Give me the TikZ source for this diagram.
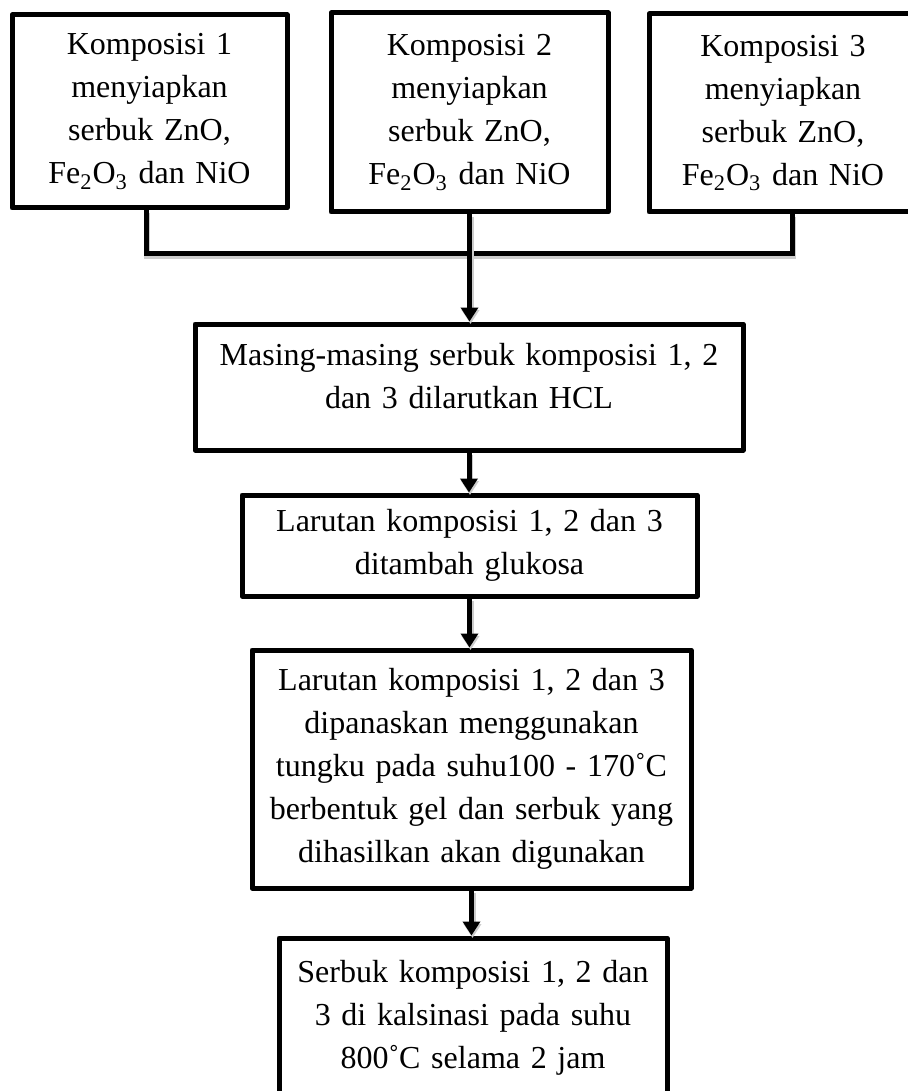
\documentclass[tikz,border=0pt]{standalone}
\usepackage{fontspec}
\setmainfont{Liberation Serif}
\usetikzlibrary{arrows.meta}
\tikzset{
    box/.style={draw, line width=2.5pt, line join=round, fill=white, align=center, inner sep=2pt, font=\fontsize{16}{21.5}\selectfont},
    link/.style={line width=2.5pt, preaction={draw=black!20, line width=3pt, transform canvas={xshift=0.5pt, yshift=-1.25pt}}},
    flow/.style={link, -{Triangle[length=7pt, width=8.5pt]}}
}
\newcommand{\siapkan}{menyiapkan\\ serbuk ZnO,\\ Fe\textsubscript{2}O\textsubscript{3} dan NiO}

\begin{document}
\begin{tikzpicture}[x=0.5pt, y=-0.5pt]
        \useasboundingbox (0, 0) rectangle (908, 1091);

        \node[box, minimum width=137.5pt, minimum height=96.5pt, text width=131pt] (k1) at (149.5, 111.5) {Komposisi 1\\ \siapkan};
        \node[box, minimum width=138.5pt, minimum height=99.5pt, text width=132pt] (k2) at (469.5, 112.5) {Komposisi 2\\ \siapkan};
        \node[box, minimum width=134pt, minimum height=99pt, text width=128pt] (k3) at (783, 113) {Komposisi 3\\ \siapkan};

        \node[box, minimum width=274pt, minimum height=63pt, text width=268pt] (larut) at (469, 387) {Masing-masing serbuk komposisi 1, 2\\ dan 3 dilarutkan HCL\rule[-11.5pt]{0pt}{0pt}};
        \node[box, minimum width=227.5pt, minimum height=50.5pt, text width=221pt] (glukosa) at (469.5, 545.5) {Larutan komposisi 1, 2 dan 3\\ ditambah glukosa};
        \node[box, minimum width=219.5pt, minimum height=119pt, text width=213pt] (panas) at (471.5, 769) {Larutan komposisi 1, 2 dan 3\\ dipanaskan menggunakan\\ tungku pada suhu100 - 170˚C\\ berbentuk gel dan serbuk yang\\ dihasilkan akan digunakan};
        \node[box, minimum width=194pt, minimum height=80pt, text width=188pt] (kalsin) at (473, 1018) {Serbuk komposisi 1, 2 dan\\ 3 di kalsinasi pada suhu\\ 800˚C selama 2 jam};

        \coordinate (j1) at (146, 253);
        \coordinate (j3) at (792, 253);

        \draw[link] (k1.south -| j1) -- (j1) -- (j3) -- (k3.south -| j3);
        \draw[flow] (k2.south) -- (k2.south |- larut.north);
        \draw[flow] (larut.south) -- (larut.south |- glukosa.north);
        \draw[flow] (glukosa.south) -- (glukosa.south |- panas.north);
        \draw[flow] (panas.south) -- (panas.south |- kalsin.north);
    \end{tikzpicture}
\end{document}
